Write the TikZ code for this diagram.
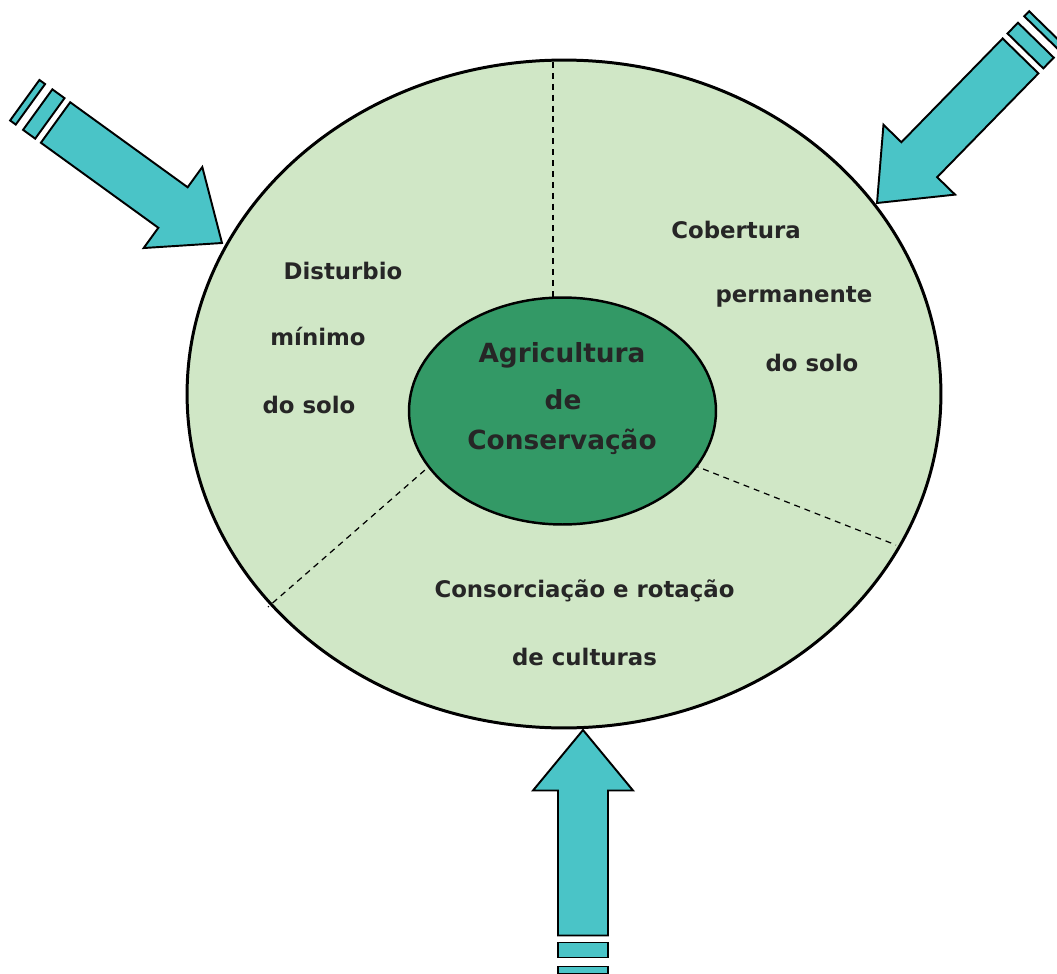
\documentclass[tikz,border=0pt]{standalone}
\usepackage{fontspec}
\setmainfont{DejaVu Sans}
\usepackage{tikz}
\usetikzlibrary{positioning,shapes.geometric}

\definecolor{setacor}{RGB}{74,196,199}
\definecolor{campoverde}{RGB}{208,231,198}
\definecolor{nucleoverde}{RGB}{51,153,102}
\definecolor{textocor}{RGB}{38,38,38}

\begin{document}
\begin{tikzpicture}[
    x=0.02cm, y=-0.02cm,
    every node/.style={text=textocor},
    campo/.style={ellipse, draw=black, line width=1.7pt, fill=campoverde,
                  minimum width=15.08cm, minimum height=13.36cm, inner sep=0pt},
    nucleo/.style={ellipse, draw=black, line width=1.4pt, fill=nucleoverde,
                   minimum width=6.14cm, minimum height=4.54cm, inner sep=0pt},
    rotulo/.style={font=\fontsize{13}{15}\selectfont\bfseries, inner sep=1pt},
    titulo/.style={font=\fontsize{15}{18}\selectfont\bfseries, inner sep=1pt},
    divisa/.style={dash pattern=on 3.4pt off 2.8pt, line width=0.7pt},
    contorno/.style={draw=black, line width=1.1pt, fill=setacor, line join=miter},
    seta/.pic={
        % block arrow pointing along +x, tip at the origin
        \draw[contorno] (-205.5,-25) -- (-60.5,-25) -- (-60.5,-50) -- (0,0)
            -- (-60.5,50) -- (-60.5,25) -- (-205.5,25) -- cycle;
        % the two bars behind the shaft
        \draw[contorno] (-227.5,-25) rectangle (-212.5,25);
        \draw[contorno] (-243.5,-25) rectangle (-236.5,25);
    },
]
\useasboundingbox (0,0) rectangle (1057,973);
\clip (0,0) rectangle (1057,973);

% three incoming arrows
\pic[rotate=-35.9] at (222,243) {seta};
\pic[rotate=225.7] at (877,203) {seta};
\pic[rotate=90] at (583,730) {seta};

% outer field and the three sectors
\node[campo] (campo) at (564,394) {};
\draw[divisa] (553,62) -- (553,298);
\draw[divisa] (693,465) -- (896,545);
\draw[divisa] (433,463) -- (268,607);

% core
\node[nucleo] (nucleo) at (562.5,411) {};
\node[titulo] (agri) at (562,355) {Agricultura};
\node[titulo] (de) at (563,400) {de};
\node[titulo] (cons) at (562,442) {Conservação};

% left sector
\node[rotulo] (dist) at (343,271) {Disturbio};
\node[rotulo] (minimo) at (318,337) {mínimo};
\node[rotulo] (solo1) at (309,405) {do solo};

% right sector
\node[rotulo] (cob) at (736,230) {Cobertura};
\node[rotulo] (perm) at (794,297) {permanente};
\node[rotulo] (solo2) at (812,363) {do solo};

% bottom sector
\node[rotulo] (consorc) at (584.5,591) {Consorciação e rotação};
\node[rotulo] (cult) at (584.5,657) {de culturas};
\end{tikzpicture}
\end{document}
